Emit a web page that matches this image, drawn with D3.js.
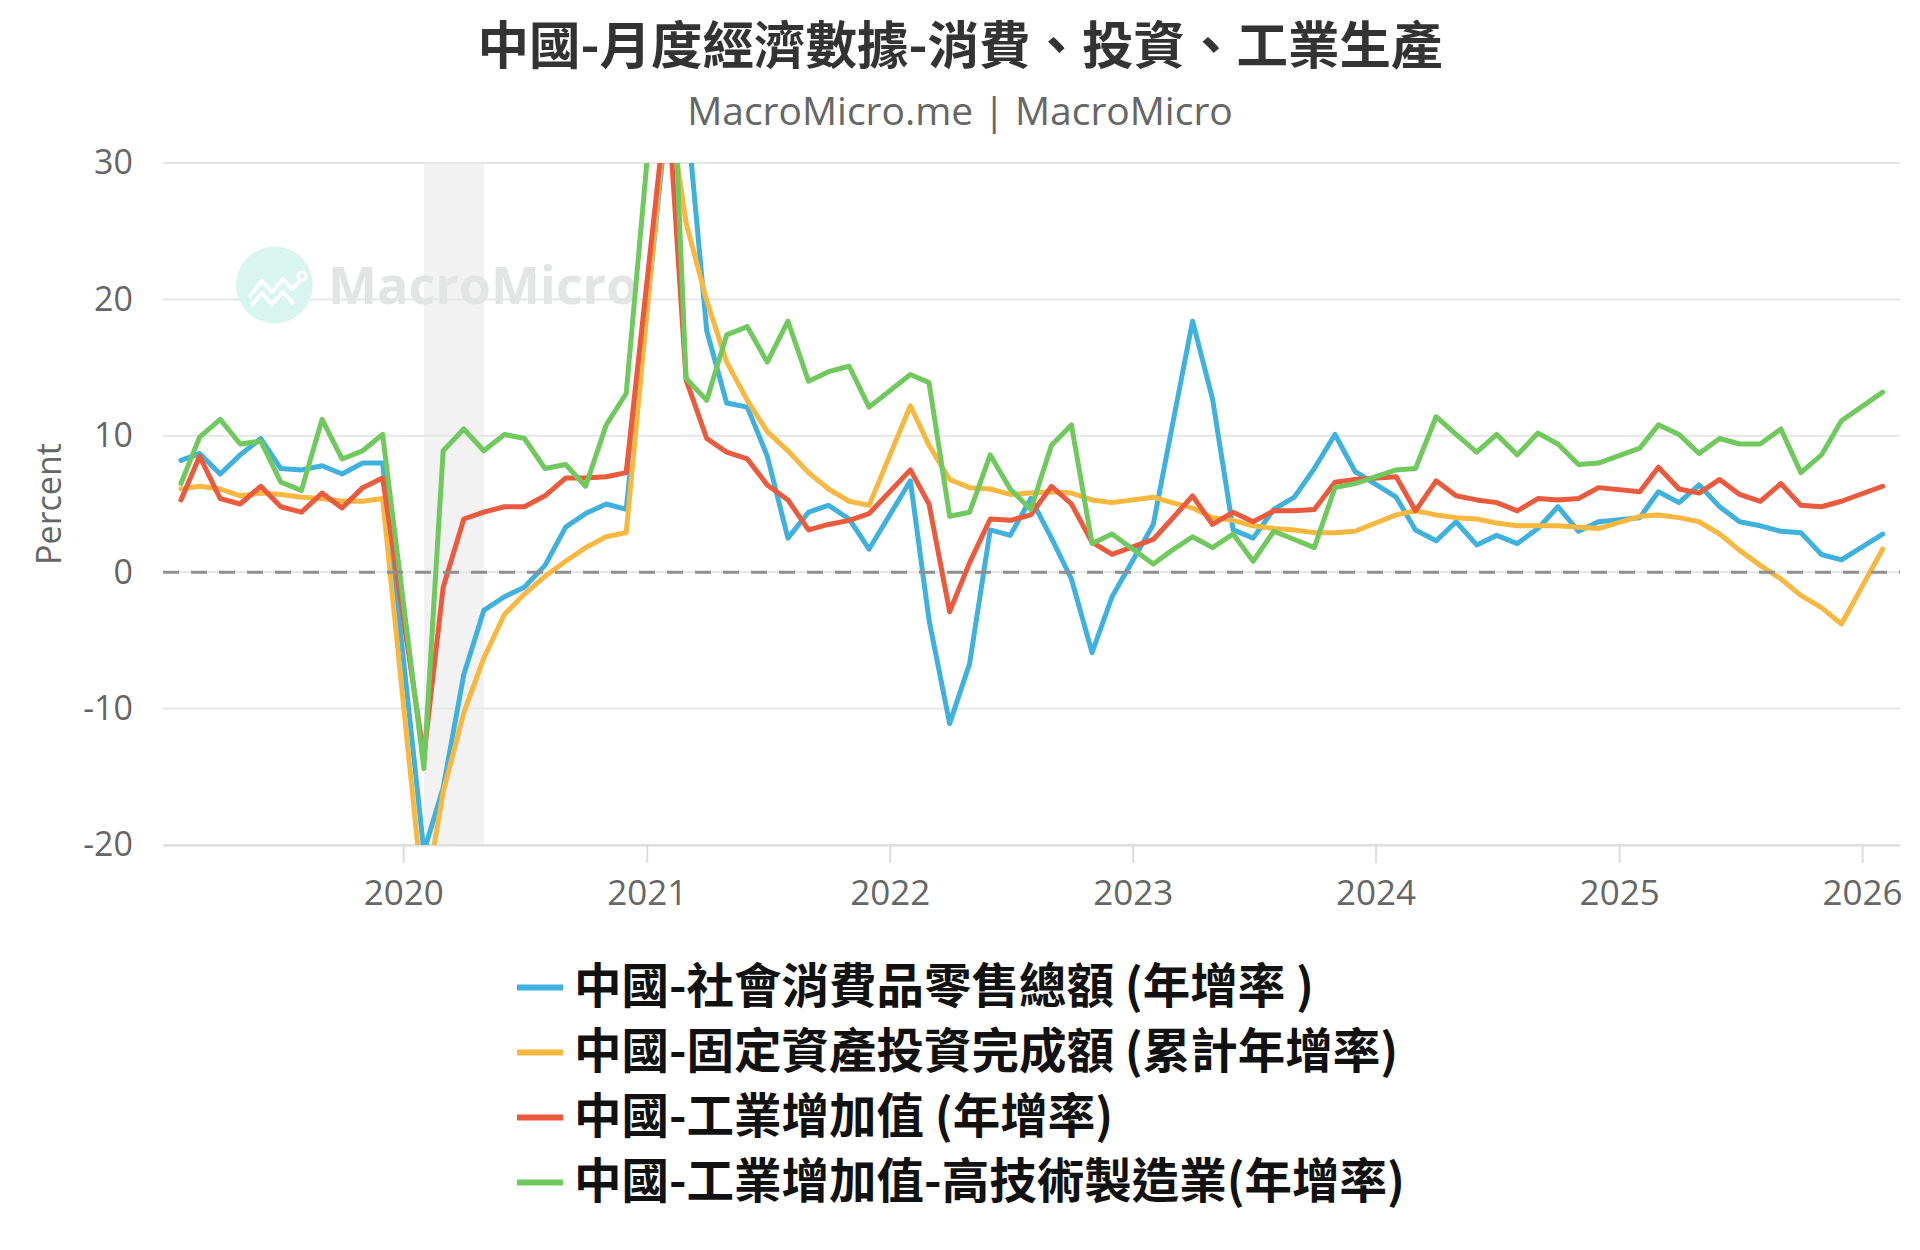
<!DOCTYPE html>
<html><head><meta charset="utf-8">
<script src="https://cdn.jsdelivr.net/npm/d3@7/dist/d3.min.js"></script>
<style>
html,body{margin:0;padding:0;background:#fff;}
svg{display:block;}
</style></head>
<body>
<svg id="chart" width="1920" height="1250"></svg>
<script>
// ---------------- DATA ----------------
const months = [
  "2019-02","2019-03","2019-04","2019-05","2019-06","2019-07","2019-08","2019-09","2019-10","2019-11","2019-12",
  "2020-02","2020-03","2020-04","2020-05","2020-06","2020-07","2020-08","2020-09","2020-10","2020-11","2020-12",
  "2021-02","2021-03","2021-04","2021-05","2021-06","2021-07","2021-08","2021-09","2021-10","2021-11","2021-12",
  "2022-02","2022-03","2022-04","2022-05","2022-06","2022-07","2022-08","2022-09","2022-10","2022-11","2022-12",
  "2023-02","2023-03","2023-04","2023-05","2023-06","2023-07","2023-08","2023-09","2023-10","2023-11","2023-12",
  "2024-02","2024-03","2024-04","2024-05","2024-06","2024-07","2024-08","2024-09","2024-10","2024-11","2024-12",
  "2025-02","2025-03","2025-04","2025-05","2025-06","2025-07","2025-08","2025-09","2025-10","2025-11","2025-12",
  "2026-02"
];
const retailSales = [
  8.2, 8.7, 7.2, 8.6, 9.8, 7.6, 7.5, 7.8, 7.2, 8.0, 8.0,
  -20.5, -15.8, -7.5, -2.8, -1.8, -1.1, 0.5, 3.3, 4.3, 5.0, 4.6,
  33.8, 34.2, 17.7, 12.4, 12.1, 8.5, 2.5, 4.4, 4.9, 3.9, 1.7,
  6.7, -3.5, -11.1, -6.7, 3.1, 2.7, 5.4, 2.5, -0.5, -5.9, -1.8,
  3.5, 10.6, 18.4, 12.7, 3.1, 2.5, 4.6, 5.5, 7.6, 10.1, 7.4,
  5.5, 3.1, 2.3, 3.7, 2.0, 2.7, 2.1, 3.2, 4.8, 3.0, 3.7,
  4.0, 5.9, 5.1, 6.4, 4.8, 3.7, 3.4, 3.0, 2.9, 1.3, 0.9,
  2.8
];
const fixedAssetInv = [
  6.1, 6.3, 6.1, 5.6, 5.8, 5.7, 5.5, 5.4, 5.2, 5.2, 5.4,
  -24.5, -16.1, -10.3, -6.3, -3.1, -1.6, -0.3, 0.8, 1.8, 2.6, 2.9,
  35.0, 25.6, 19.9, 15.4, 12.6, 10.3, 8.9, 7.3, 6.1, 5.2, 4.9,
  12.2, 9.3, 6.8, 6.2, 6.1, 5.7, 5.8, 5.9, 5.8, 5.3, 5.1,
  5.5, 5.1, 4.7, 4.0, 3.8, 3.4, 3.2, 3.1, 2.9, 2.9, 3.0,
  4.2, 4.5, 4.2, 4.0, 3.9, 3.6, 3.4, 3.4, 3.4, 3.3, 3.2,
  4.1, 4.2, 4.0, 3.7, 2.8, 1.6, 0.5, -0.5, -1.7, -2.6, -3.8,
  1.7
];
const industrialVA = [
  5.3, 8.5, 5.4, 5.0, 6.3, 4.8, 4.4, 5.8, 4.7, 6.2, 6.9,
  -13.5, -1.1, 3.9, 4.4, 4.8, 4.8, 5.6, 6.9, 6.9, 7.0, 7.3,
  35.1, 14.1, 9.8, 8.8, 8.3, 6.4, 5.3, 3.1, 3.5, 3.8, 4.3,
  7.5, 5.0, -2.9, 0.7, 3.9, 3.8, 4.2, 6.3, 5.0, 2.2, 1.3,
  2.4, 3.9, 5.6, 3.5, 4.4, 3.7, 4.5, 4.5, 4.6, 6.6, 6.8,
  7.0, 4.5, 6.7, 5.6, 5.3, 5.1, 4.5, 5.4, 5.3, 5.4, 6.2,
  5.9, 7.7, 6.1, 5.8, 6.8, 5.7, 5.2, 6.5, 4.9, 4.8, 5.2,
  6.3
];
const hiTechVA = [
  6.5, 9.9, 11.2, 9.4, 9.6, 6.6, 6.0, 11.2, 8.3, 8.9, 10.1,
  -14.4, 8.9, 10.5, 8.9, 10.1, 9.8, 7.6, 7.9, 6.3, 10.8, 13.1,
  46.9, 14.2, 12.6, 17.4, 18.0, 15.4, 18.4, 14.0, 14.7, 15.1, 12.1,
  14.5, 13.9, 4.1, 4.4, 8.6, 6.1, 4.6, 9.3, 10.8, 2.1, 2.8,
  0.6, 1.6, 2.6, 1.8, 2.8, 0.8, 3.0, 2.4, 1.8, 6.2, 6.5,
  7.5, 7.6, 11.4, 10.1, 8.8, 10.1, 8.6, 10.2, 9.4, 7.9, 8.0,
  9.1, 10.8, 10.1, 8.7, 9.8, 9.4, 9.4, 10.5, 7.3, 8.6, 11.1,
  13.2
];
const seriesNames = [
  "中國-社會消費品零售總額 (年增率 )",
  "中國-固定資產投資完成額 (累計年增率)",
  "中國-工業增加值 (年增率)",
  "中國-工業增加值-高技術製造業(年增率)"
];
const yTickValues = [-20, -10, 0, 10, 20, 30];
const xTickYears = ["2020", "2021", "2022", "2023", "2024", "2025", "2026"];
const recessionBand = ["2020-02", "2020-05"];
const xDomain = ["2019-01-05", "2026-02-27"];

// ---------------- STYLE ----------------
const colors = ["#3fb1df", "#f8b83f", "#eb5a3c", "#6fc95d"];
const latin = "'Open Sans', 'Noto Sans', sans-serif";
const cjk = "'Noto Sans CJK TC', 'Noto Sans CJK SC', sans-serif";

const plot = {left: 163, right: 1900, top: 163, bottom: 845};

const parseM = d3.utcParse("%Y-%m");
const parseD = d3.utcParse("%Y-%m-%d");
const dates = months.map(parseM);

const x = d3.scaleUtc().domain(xDomain.map(parseD)).range([plot.left, plot.right]);
const y = d3.scaleLinear().domain([-20, 30]).range([plot.bottom, plot.top]);

const svg = d3.select("#chart");

// clip
svg.append("defs").append("clipPath").attr("id", "plotClip")
  .append("rect")
  .attr("x", plot.left).attr("y", plot.top)
  .attr("width", plot.right - plot.left).attr("height", plot.bottom - plot.top);

// recession band
svg.append("rect")
  .attr("x", x(parseM(recessionBand[0])))
  .attr("y", plot.top)
  .attr("width", x(parseM(recessionBand[1])) - x(parseM(recessionBand[0])))
  .attr("height", plot.bottom - plot.top)
  .attr("fill", "#f2f2f2");

// gridlines
svg.append("g").selectAll("line").data(yTickValues).join("line")
  .attr("x1", plot.left).attr("x2", plot.right)
  .attr("y1", d => y(d)).attr("y2", d => y(d))
  .attr("stroke", "#e6e6e6").attr("stroke-width", 2);

// watermark
const wm = svg.append("g");
wm.append("circle").attr("cx", 274.5).attr("cy", 285).attr("r", 38.5).attr("fill", "#d8f6ef");
wm.append("path")
  .attr("d", "M249,297 L262,281 L272,292 L283,279 L292,289 L300,281")
  .attr("fill", "none").attr("stroke", "#ffffff").attr("stroke-width", 4).attr("stroke-linejoin", "round");
wm.append("path")
  .attr("d", "M251,306 L262,293 L272,304 L283,292 L294,304")
  .attr("fill", "none").attr("stroke", "#ffffff").attr("stroke-width", 4).attr("stroke-linejoin", "round");
wm.append("circle").attr("cx", 302).attr("cy", 276).attr("r", 4).attr("fill", "none")
  .attr("stroke", "#ffffff").attr("stroke-width", 3);
wm.append("text").attr("x", 328).attr("y", 304)
  .attr("font-family", latin).attr("font-weight", 700).attr("font-size", 52)
  .attr("fill", "#e3e5e5").text("MacroMicro");

// x axis
const xAxis = d3.axisBottom(x)
  .tickValues(xTickYears.map(yr => d3.utcParse("%Y")(yr)))
  .tickFormat(d3.utcFormat("%Y"))
  .tickSize(18).tickSizeOuter(0).tickPadding(17);
const gx = svg.append("g").attr("transform", `translate(0,${plot.bottom})`).call(xAxis);
gx.select(".domain").attr("stroke", "#dcdcdc").attr("stroke-width", 2);
gx.selectAll(".tick line").attr("stroke", "#dcdcdc").attr("stroke-width", 2);
gx.selectAll(".tick text").attr("font-family", latin).attr("font-size", 35).attr("fill", "#666");

// y axis
const yAxis = d3.axisLeft(y).tickValues(yTickValues).tickFormat(d => String(d)).tickSize(0).tickPadding(30);
const gy = svg.append("g").attr("transform", `translate(${plot.left},0)`).call(yAxis);
gy.select(".domain").remove();
gy.selectAll(".tick text").attr("font-family", latin).attr("font-size", 34).attr("fill", "#666");

// y axis title
svg.append("text")
  .attr("transform", `translate(61,${(plot.top + plot.bottom) / 2}) rotate(-90)`)
  .attr("text-anchor", "middle")
  .attr("font-family", latin).attr("font-size", 34).attr("fill", "#666")
  .text("Percent");

// series lines
const allSeries = [retailSales, fixedAssetInv, industrialVA, hiTechVA];
const line = d3.line().x(d => x(d.date)).y(d => y(d.v));
const gLines = svg.append("g").attr("clip-path", "url(#plotClip)");
allSeries.forEach((vals, i) => {
  const pts = vals.map((v, j) => ({date: dates[j], v}));
  gLines.append("path").datum(pts)
    .attr("d", line)
    .attr("fill", "none")
    .attr("stroke", colors[i])
    .attr("stroke-width", 5)
    .attr("stroke-linejoin", "round")
    .attr("stroke-linecap", "round");
});

// zero plot line (dashed)
svg.append("line")
  .attr("x1", plot.left).attr("x2", plot.right)
  .attr("y1", y(0)).attr("y2", y(0))
  .attr("stroke", "#8f8f8f").attr("stroke-width", 3)
  .attr("stroke-dasharray", "16,12");

// title
svg.append("text").attr("x", 960).attr("y", 64).attr("text-anchor", "middle")
  .attr("font-family", cjk).attr("font-weight", 700).attr("font-size", 51.5).attr("fill", "#333")
  .text("中國-月度經濟數據-消費、投資、工業生產");
svg.append("text").attr("x", 960).attr("y", 124.5).attr("text-anchor", "middle")
  .attr("font-family", latin).attr("font-size", 39).attr("fill", "#666")
  .text("MacroMicro.me | MacroMicro");

// legend
const legendBase = [1002.5, 1067.5, 1132.5, 1197.5];
const lg = svg.append("g");
seriesNames.forEach((name, i) => {
  lg.append("line")
    .attr("x1", 517).attr("x2", 563)
    .attr("y1", legendBase[i] - 15).attr("y2", legendBase[i] - 15)
    .attr("stroke", colors[i]).attr("stroke-width", 6);
  lg.append("text").attr("x", 574).attr("y", legendBase[i])
    .attr("font-family", cjk).attr("font-weight", 700).attr("font-size", 47.5)
    .attr("fill", "#111").text(name);
});
</script>
</body></html>
